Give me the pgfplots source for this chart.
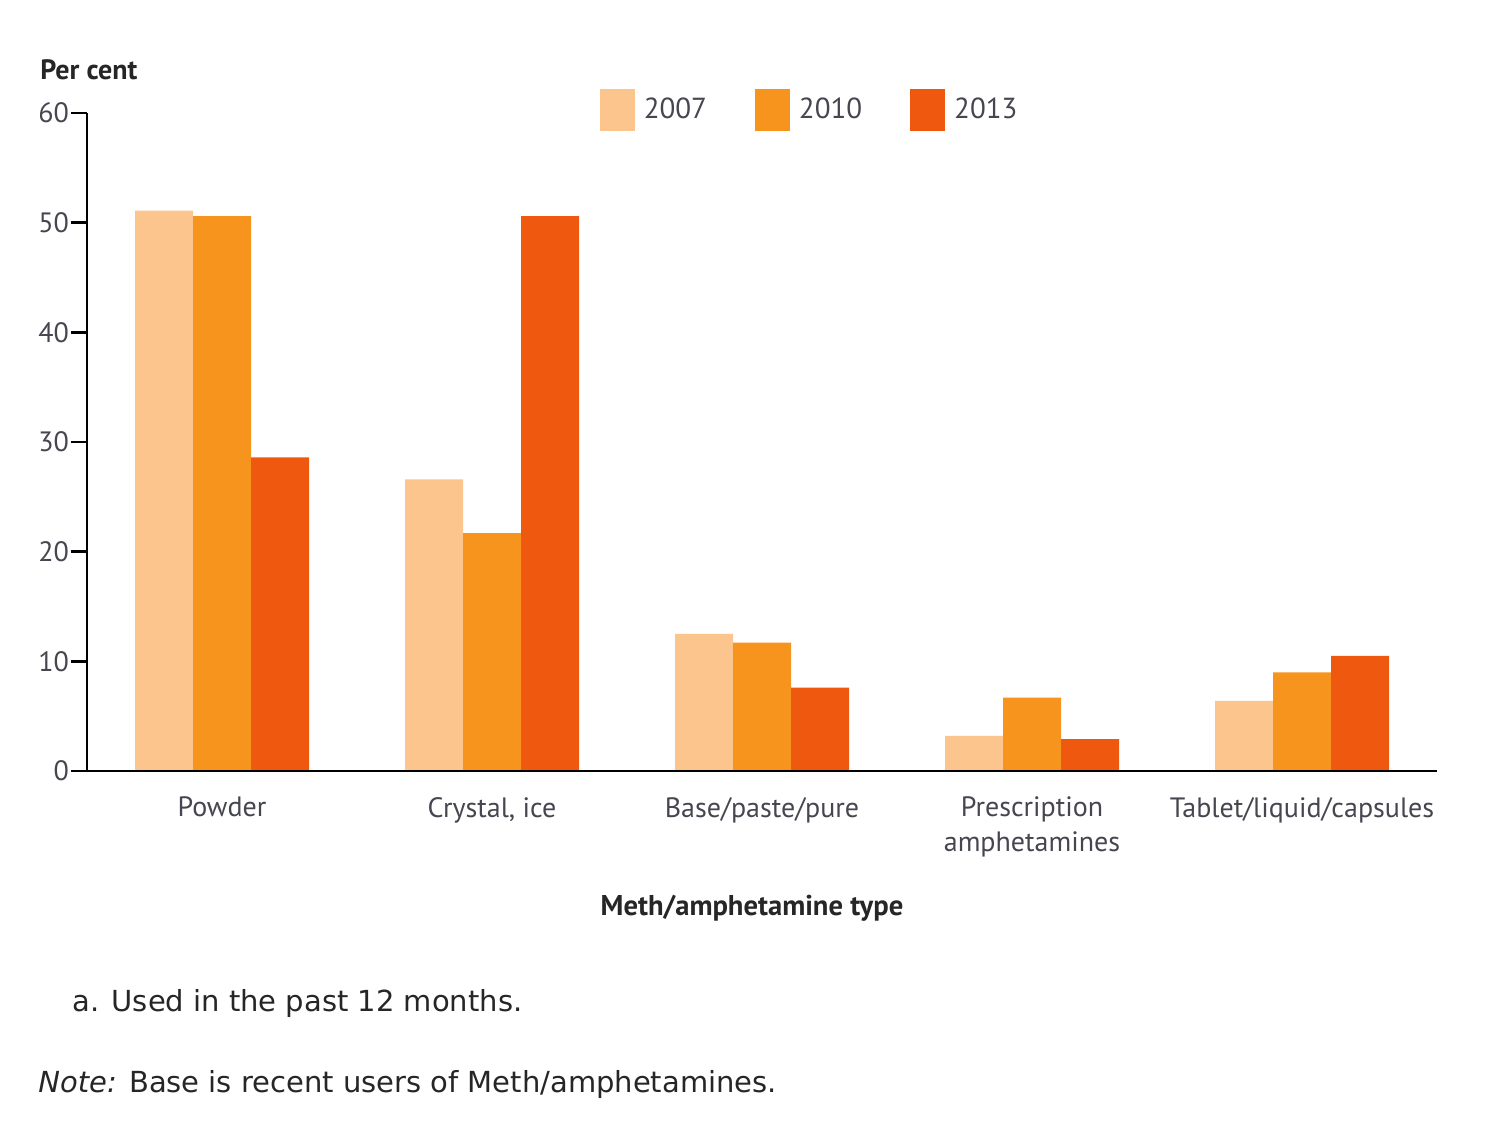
\documentclass[border=0pt]{standalone}
\usepackage{pgfplots}
\pgfplotsset{compat=1.18}
\usepackage{fontspec}
\setmainfont{PT Sans}
\newfontfamily\notefont{DejaVu Sans}
\definecolor{c07}{RGB}{252,197,142}
\definecolor{c10}{RGB}{246,148,30}
\definecolor{c13}{RGB}{238,88,15}
\definecolor{txt}{RGB}{70,70,80}
\begin{document}
\begin{tikzpicture}
\path[use as bounding box] (-43.5pt,-177pt) rectangle (706.5pt,385.5pt);
\begin{axis}[
 at={(0pt,0pt)}, anchor=south west,
 scale only axis, width=675pt, height=329pt,
 xmin=-0.5, xmax=4.5, ymin=0, ymax=60,
 axis x line=bottom, axis y line=left,
 axis line style={line width=1.2pt, -},
 axis on top=true,
 ytick={0,10,...,60},
 xtick={0,1,2,3,4},
 xticklabels={Powder, {Crystal, ice}, Base/paste/pure, {Prescription\\amphetamines}, Tablet/liquid/capsules},
 xticklabel style={align=center, font=\fontsize{14}{17.5}\selectfont, text=txt, yshift=-1.5pt},
 x tick style={draw=none},
 y tick style={line width=1.2pt, black},
 major tick length=8pt, tick align=outside,
 yticklabel style={font=\fontsize{14}{15}\selectfont, text=txt, xshift=2.5pt},
 /pgf/number format/assume math mode=true,
 ybar=0pt, bar width=29pt,
 legend style={draw=none, at={(0.536,1.005)}, anchor=center, legend columns=3,
   /tikz/every even column/.append style={column sep=22pt},
   font=\fontsize{14.5}{16}\selectfont, text=txt},
 legend image code/.code={\path[#1,draw=none] (0pt,-10.5pt) rectangle (17.5pt,10.5pt); \path (20pt,0pt);},
]
\addplot[fill=c07, draw=none] coordinates {(0,51.1) (1,26.6) (2,12.5) (3,3.2) (4,6.4)};
\addplot[fill=c10, draw=none] coordinates {(0,50.6) (1,21.7) (2,11.7) (3,6.7) (4,9.0)};
\addplot[fill=c13, draw=none] coordinates {(0,28.6) (1,50.6) (2,7.6) (3,2.9) (4,10.5)};
\legend{2007,2010,2013}
\end{axis}
\node[anchor=base west, inner sep=0, font=\bfseries\fontsize{14}{15}\selectfont, text=black!85] at (-23.5pt,345.5pt) {Per cent};
\node[anchor=base, inner sep=0, font=\bfseries\fontsize{14.3}{16}\selectfont, text=black!85] at (332.5pt,-72pt) {Meth/amphetamine type};
\node[anchor=base west, inner sep=0, font=\notefont\fontsize{14.5}{16}\selectfont, text=black!85] at (-7.5pt,-120pt) {a. Used in the past 12 months.};
\node[anchor=base west, inner sep=0, font=\notefont\fontsize{14.5}{16}\selectfont, text=black!85] at (-24.5pt,-160.5pt) {\textit{Note:} Base is recent users of Meth/amphetamines.};
\end{tikzpicture}
\end{document}
